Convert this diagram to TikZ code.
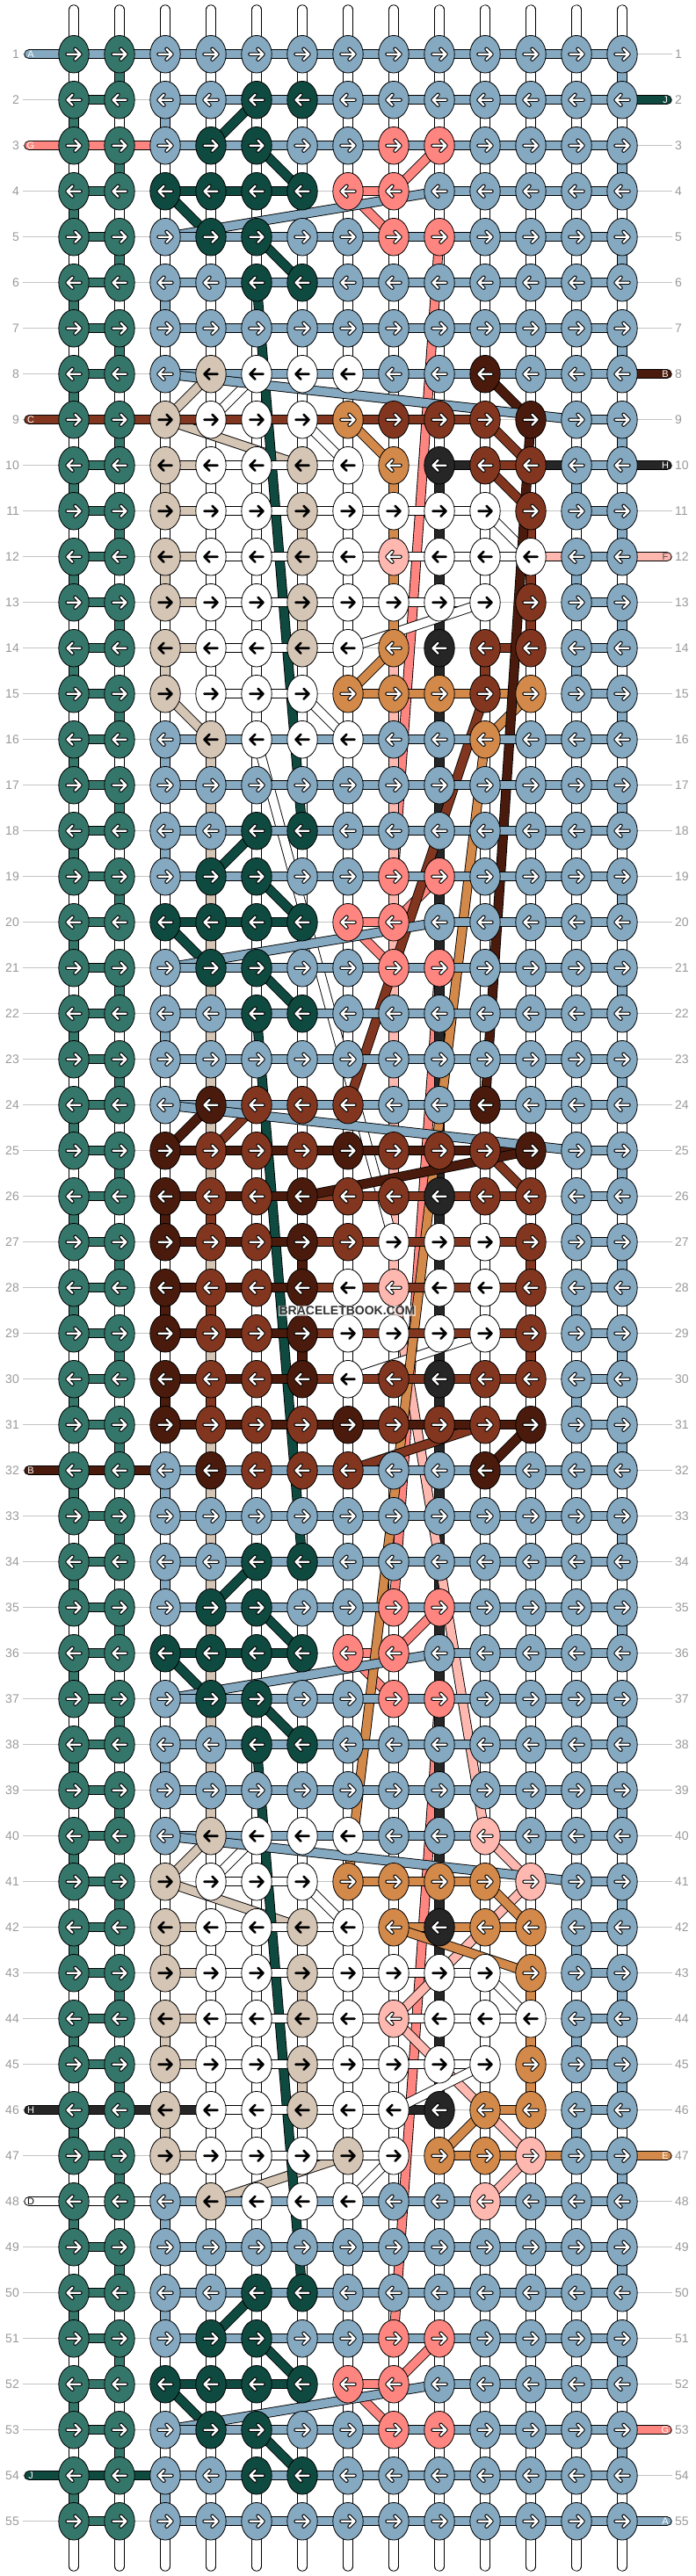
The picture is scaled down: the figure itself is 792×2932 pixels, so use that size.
\documentclass[tikz,border=0pt]{standalone}
\usepackage{fontspec}
\setmainfont{Liberation Sans}
\usetikzlibrary{shapes.geometric}

\definecolor{stTeal}{HTML}{35766A}
\definecolor{stBlue}{HTML}{85A9C1}
\definecolor{stDkGreen}{HTML}{0F4A40}
\definecolor{stSalmon}{HTML}{FF8680}
\definecolor{stPink}{HTML}{FFB8B0}
\definecolor{stTan}{HTML}{D5C5B5}
\definecolor{stWhite}{HTML}{FFFFFF}
\definecolor{stOrange}{HTML}{D2894A}
\definecolor{stRust}{HTML}{82361F}
\definecolor{stBrown}{HTML}{4A1B0C}
\definecolor{stBlack}{HTML}{262626}
\definecolor{rowgray}{HTML}{9A9A9A}
\definecolor{guidegray}{HTML}{C4C4C4}

% knot letter -> colour
\expandafter\def\csname knc-i\endcsname{stTeal}
\expandafter\def\csname knc-b\endcsname{stBlue}
\expandafter\def\csname knc-d\endcsname{stDkGreen}
\expandafter\def\csname knc-s\endcsname{stSalmon}
\expandafter\def\csname knc-p\endcsname{stPink}
\expandafter\def\csname knc-t\endcsname{stTan}
\expandafter\def\csname knc-w\endcsname{stWhite}
\expandafter\def\csname knc-o\endcsname{stOrange}
\expandafter\def\csname knc-r\endcsname{stRust}
\expandafter\def\csname knc-k\endcsname{stBrown}
\expandafter\def\csname knc-x\endcsname{stBlack}

% one row of knots, left to right
\makeatletter
\newcount\knotcol
\def\knotrow#1#2{\knotcol=0 \def\knotr{#1}\knot@scan#2\relax}
\def\knot@scan#1{\ifx#1\relax\else
  \advance\knotcol by 1
  \expandafter\xdef\csname kn-\knotr-\the\knotcol\endcsname{#1}%
  \expandafter\knot@scan\fi}
\makeatother
\def\knone{none}

\knotrow{1}{iibbbbbbbbbbb}
\knotrow{2}{iibbddbbbbbbb}
\knotrow{3}{iibddbbssbbbb}
\knotrow{4}{iiddddssbbbbb}
\knotrow{5}{iibddbbssbbbb}
\knotrow{6}{iibbddbbbbbbb}
\knotrow{7}{iibbbbbbbbbbb}
\knotrow{8}{iibtwwwbbkbbb}
\knotrow{9}{iitwwworrrkbb}
\knotrow{10}{iitwwtwoxrrbb}
\knotrow{11}{iitwwtwwwwrbb}
\knotrow{12}{iitwwtwpwwwbb}
\knotrow{13}{iitwwtwwwwrbb}
\knotrow{14}{iitwwtwoxrrbb}
\knotrow{15}{iitwwwooorobb}
\knotrow{16}{iibtwwwbbobbb}
\knotrow{17}{iibbbbbbbbbbb}
\knotrow{18}{iibbddbbbbbbb}
\knotrow{19}{iibddbbssbbbb}
\knotrow{20}{iiddddssbbbbb}
\knotrow{21}{iibddbbssbbbb}
\knotrow{22}{iibbddbbbbbbb}
\knotrow{23}{iibbbbbbbbbbb}
\knotrow{24}{iibkrrrbbkbbb}
\knotrow{25}{iikrrrkrrrkbb}
\knotrow{26}{iikrrkrrxrrbb}
\knotrow{27}{iikrrkrwwwrbb}
\knotrow{28}{iikrrkwpwwrbb}
\knotrow{29}{iikrrkwwwwrbb}
\knotrow{30}{iikrrkwrxrrbb}
\knotrow{31}{iikrrrkrrrkbb}
\knotrow{32}{iibkrrrbbkbbb}
\knotrow{33}{iibbbbbbbbbbb}
\knotrow{34}{iibbddbbbbbbb}
\knotrow{35}{iibddbbssbbbb}
\knotrow{36}{iiddddssbbbbb}
\knotrow{37}{iibddbbssbbbb}
\knotrow{38}{iibbddbbbbbbb}
\knotrow{39}{iibbbbbbbbbbb}
\knotrow{40}{iibtwwwbbpbbb}
\knotrow{41}{iitwwwoooopbb}
\knotrow{42}{iitwwtwoxoobb}
\knotrow{43}{iitwwtwwwwobb}
\knotrow{44}{iitwwtwpwwwbb}
\knotrow{45}{iitwwtwwwwobb}
\knotrow{46}{iitwwtwwxoobb}
\knotrow{47}{iitwwwtwoopbb}
\knotrow{48}{iibtwwwbbpbbb}
\knotrow{49}{iibbbbbbbbbbb}
\knotrow{50}{iibbddbbbbbbb}
\knotrow{51}{iibddbbssbbbb}
\knotrow{52}{iiddddssbbbbb}
\knotrow{53}{iibddbbssbbbb}
\knotrow{54}{iibbddbbbbbbb}
\knotrow{55}{iibbbbbbbbbbb}

\begin{document}
\begin{tikzpicture}[x=1pt,y=-1pt,
    knot/.style={ellipse, draw=black, line width=0.8pt, minimum width=34.4pt, minimum height=42.6pt, inner sep=0pt},
    strand/.style={draw=black, line width=0.9pt, double=#1, double distance=9.4pt, line cap=round},
    basestr/.style={draw=black, line width=0.8pt, double=white, double distance=9.8pt, line cap=round},
    guide/.style={guidegray, line width=1.2pt},
    rowlbl/.style={rowgray, font=\fontsize{14}{14}\selectfont, inner sep=0pt},
    endlbl/.style={font=\fontsize{11}{11}\selectfont, inner sep=0pt},
    arrowout/.style={black, line width=4.4pt, line cap=round, line join=round},
    arrowin/.style={white, line width=2.4pt, line cap=round, line join=round},
    arrowdark/.style={black, line width=2.6pt, line cap=round, line join=round}]

  \useasboundingbox (0,0) rectangle (792,2932);
  \fill[white] (0,0) rectangle (792,2932);

  % knot centres and string ends
  \foreach \kr in {1,...,55} {
    \foreach \kq in {1,...,13}
      \coordinate (k-\kr-\kq) at ({84+52*(\kq-1)},{61.7+52*(\kr-1)});
    \coordinate (L-\kr) at (33,{61.7+52*(\kr-1)});
    \coordinate (R-\kr) at (759,{61.7+52*(\kr-1)});
    \coordinate (gl-\kr) at (26,{61.7+52*(\kr-1)});
    \coordinate (gr-\kr) at (765,{61.7+52*(\kr-1)});
    \draw[guide] (gl-\kr) -- (gr-\kr);
    \node[rowlbl, anchor=east] (ln-\kr) at (22,{61.7+52*(\kr-1)}) {\kr};
    \node[rowlbl, anchor=west] (rn-\kr) at (768,{61.7+52*(\kr-1)}) {\kr};
  }

  % base strings
  \foreach \kq in {1,...,13} {
    \coordinate (top-\kq) at ({84+52*(\kq-1)},11);
    \coordinate (bot-\kq) at ({84+52*(\kq-1)},2921);
    \draw[basestr] (top-\kq) -- (bot-\kq);
  }

  % working strings, knot to knot in tying order
  \foreach \kc/\kcol/\kin/\kout in {i/stTeal/none/none, t/stTan/none/none,
      d/stDkGreen/R-2/L-54, s/stSalmon/L-3/R-53, x/stBlack/R-10/L-46,
      p/stPink/R-12/none, w/stWhite/none/L-48, o/stOrange/none/R-47,
      r/stRust/L-9/none, k/stBrown/R-8/L-32, b/stBlue/L-1/R-55} {
    \xdef\lastpos{\kin}
    \foreach \kr in {1,...,55} {
      \foreach \kq in {1,...,13} {
        \edef\kcn{\ifodd\kr\space\kq\else\the\numexpr14-\kq\relax\fi}
        \edef\kk{\csname kn-\kr-\kcn\endcsname}
        \if\kk\kc
          \ifx\lastpos\knone\else
            \draw[strand=\kcol] (\lastpos) -- (k-\kr-\kcn);
          \fi
          \xdef\lastpos{k-\kr-\kcn}
        \fi
      }
    }
    \edef\kend{\kout}
    \ifx\kend\knone\else
      \draw[strand=\kcol] (\lastpos) -- (\kout);
    \fi
  }

  % knots
  \foreach \kr in {1,...,55} {
    \ifodd\kr \def\kdir{1}\else \def\kdir{-1}\fi
    \foreach \kq in {1,...,13} {
      \edef\kk{\csname kn-\kr-\kq\endcsname}
      \edef\kfill{\csname knc-\kk\endcsname}
      \node[knot, fill=\kfill] (n-\kr-\kq) at (k-\kr-\kq) {};
      \def\kdark{0}
      \if\kk w\def\kdark{1}\fi
      \if\kk t\def\kdark{1}\fi
      \ifnum\kdark=1
        \draw[arrowdark, shift={(k-\kr-\kq)}, xscale=\kdir] (-7.5,0) -- (7.5,0) (1.5,-6) -- (7.5,0) -- (1.5,6);
      \else
        \draw[arrowout, shift={(k-\kr-\kq)}, xscale=\kdir] (-7.5,0) -- (7.5,0) (1.5,-6) -- (7.5,0) -- (1.5,6);
        \draw[arrowin, shift={(k-\kr-\kq)}, xscale=\kdir] (-7.5,0) -- (7.5,0) (1.5,-6) -- (7.5,0) -- (1.5,6);
      \fi
    }
  }

  % string letters
  \node[endlbl, text=white] (eA1) at (35,61.7) {A};
  \node[endlbl, text=white] (eG3) at (35,165.7) {G};
  \node[endlbl, text=white] (eC9) at (35,477.7) {C};
  \node[endlbl, text=white] (eB32) at (35,1673.7) {B};
  \node[endlbl, text=white] (eH46) at (35,2401.7) {H};
  \node[endlbl, text=black] (eD48) at (35,2505.7) {D};
  \node[endlbl, text=white] (eJ54) at (35,2817.7) {J};
  \node[endlbl, text=white] (eJ2) at (757,113.7) {J};
  \node[endlbl, text=white] (eB8) at (757,425.7) {B};
  \node[endlbl, text=white] (eH10) at (757,529.7) {H};
  \node[endlbl, text=black!70] (eF12) at (757,633.7) {F};
  \node[endlbl, text=white] (eE47) at (757,2453.7) {E};
  \node[endlbl, text=white] (eG53) at (757,2765.7) {G};
  \node[endlbl, text=white] (eA55) at (757,2869.7) {A};

  \node[font=\bfseries\fontsize{14}{14}\selectfont, text=black!80, fill=white, fill opacity=0.6, text opacity=1, inner sep=1pt] (mark) at (395,1492) {BRACELETBOOK.COM};
\end{tikzpicture}
\end{document}
